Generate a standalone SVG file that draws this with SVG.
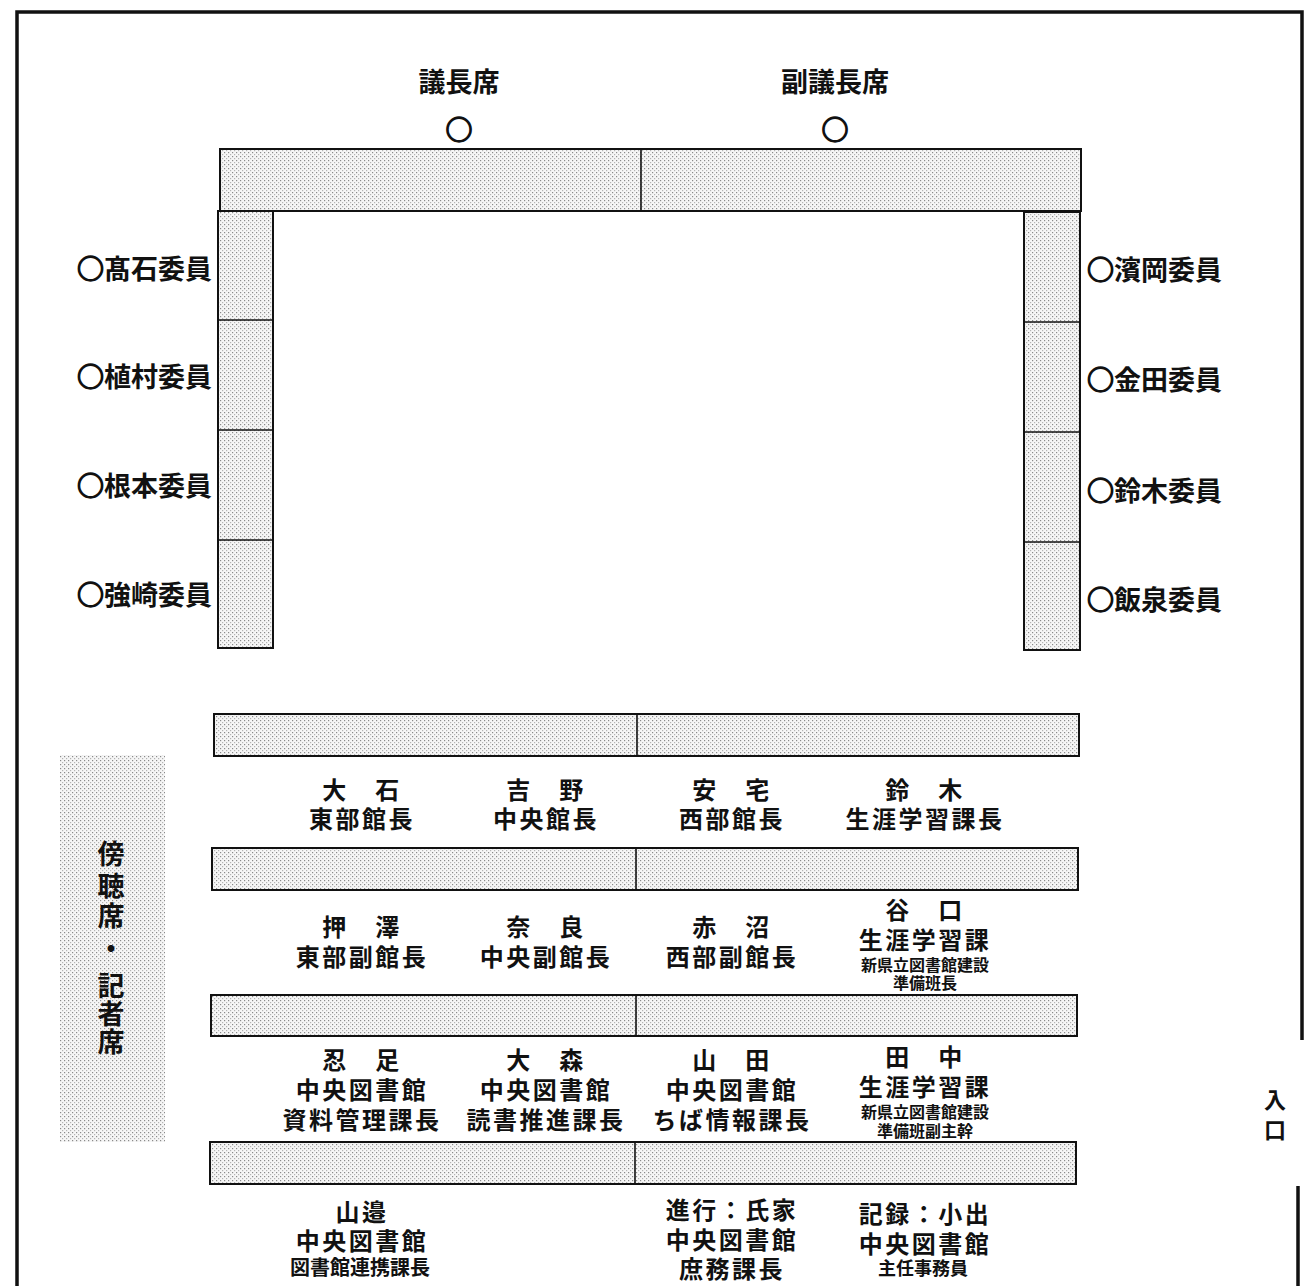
<svg xmlns="http://www.w3.org/2000/svg" width="1306" height="1288" viewBox="0 0 1306 1288">
<defs>
<pattern id="dots" width="4" height="4" patternUnits="userSpaceOnUse">
<rect width="4" height="4" fill="#f6f6f6"/>
<rect x="0" y="0" width="1.2" height="1.2" fill="#8a8a8a"/>
<rect x="2" y="2" width="1.2" height="1.2" fill="#b4b4b4"/>
</pattern>
<style>
.t{fill:url(#dots);stroke:#111;stroke-width:2}
.dv{stroke:#111;stroke-width:1.6}
.frame{stroke:#111;stroke-width:3.5;fill:none}
text{font-family:"Noto Sans CJK JP","Noto Sans CJK SC",sans-serif;font-weight:700;fill:#111;dominant-baseline:central}
.n{font-size:24px;text-anchor:middle;letter-spacing:2.5px}
.m{font-size:27px}
.g{font-size:27px;text-anchor:middle}
.s{font-size:16px;text-anchor:middle}
.s2{font-size:20px;text-anchor:middle}
.s3{font-size:18px;text-anchor:middle}
.c{text-anchor:middle}
.o{stroke:#111;stroke-width:1.4}
</style>
</defs>
<rect width="1306" height="1288" fill="#fff"/>
<g id="frame">
<path class="frame" d="M17,1286 V12 H1302 V1040"/>
<path class="frame" d="M1298,1186 V1286"/>
</g>
<g id="top-tables">
<rect class="t" x="220" y="149" width="861" height="62"/>
<line class="dv" x1="641" y1="149" x2="641" y2="211"/>
<rect class="t" x="218" y="211" width="55" height="437"/>
<line class="dv" x1="218" y1="320" x2="273" y2="320"/>
<line class="dv" x1="218" y1="430" x2="273" y2="430"/>
<line class="dv" x1="218" y1="540" x2="273" y2="540"/>
<rect class="t" x="1024" y="212" width="56" height="438"/>
<line class="dv" x1="1024" y1="322" x2="1080" y2="322"/>
<line class="dv" x1="1024" y1="432" x2="1080" y2="432"/>
<line class="dv" x1="1024" y1="542" x2="1080" y2="542"/>
</g>
<g id="rows">
<rect class="t" x="214" y="714" width="865" height="42"/>
<line class="dv" x1="637" y1="714" x2="637" y2="756"/>
<rect class="t" x="212" y="848" width="866" height="42"/>
<line class="dv" x1="636" y1="848" x2="636" y2="890"/>
<rect class="t" x="211" y="995" width="866" height="41"/>
<line class="dv" x1="636" y1="995" x2="636" y2="1036"/>
<rect class="t" x="210" y="1142" width="866" height="42"/>
<line class="dv" x1="635" y1="1142" x2="635" y2="1184"/>
</g>
<g id="gallery">
<rect x="60" y="755" width="105" height="387" fill="url(#dots)"/>
<text class="g" x="111" y="852">傍</text>
<text class="g" x="111" y="884">聴</text>
<text class="g" x="111" y="914">席</text>
<text class="g" x="111" y="947">・</text>
<text class="g" x="111" y="984">記</text>
<text class="g" x="111" y="1012">者</text>
<text class="g" x="111" y="1040">席</text>
</g>
<g id="chair">
<text class="m c" x="459" y="80">議長席</text>
<text class="m c o" x="459" y="128">○</text>
</g>
<g id="vicechair">
<text class="m c" x="835" y="80">副議長席</text>
<text class="m c o" x="835" y="128">○</text>
</g>
<g id="left-members">
<text class="m" x="212" y="267" text-anchor="end"><tspan class="o">○</tspan>髙石委員</text>
<text class="m" x="212" y="375" text-anchor="end"><tspan class="o">○</tspan>植村委員</text>
<text class="m" x="212" y="484" text-anchor="end"><tspan class="o">○</tspan>根本委員</text>
<text class="m" x="212" y="593" text-anchor="end"><tspan class="o">○</tspan>強崎委員</text>
</g>
<g id="right-members">
<text class="m" x="1087" y="268"><tspan class="o">○</tspan>濱岡委員</text>
<text class="m" x="1087" y="378"><tspan class="o">○</tspan>金田委員</text>
<text class="m" x="1087" y="489"><tspan class="o">○</tspan>鈴木委員</text>
<text class="m" x="1087" y="598"><tspan class="o">○</tspan>飯泉委員</text>
</g>
<g id="row1-labels">
<text class="n" x="362" y="788">大　石</text>
<text class="n" x="362" y="817">東部館長</text>
<text class="n" x="546" y="788">吉　野</text>
<text class="n" x="546" y="817">中央館長</text>
<text class="n" x="732" y="788">安　宅</text>
<text class="n" x="732" y="817">西部館長</text>
<text class="n" x="925" y="788">鈴　木</text>
<text class="n" x="925" y="817">生涯学習課長</text>
</g>
<g id="row2-labels">
<text class="n" x="362" y="925">押　澤</text>
<text class="n" x="362" y="955">東部副館長</text>
<text class="n" x="546" y="925">奈　良</text>
<text class="n" x="546" y="955">中央副館長</text>
<text class="n" x="732" y="925">赤　沼</text>
<text class="n" x="732" y="955">西部副館長</text>
<text class="n" x="925" y="908">谷　口</text>
<text class="n" x="925" y="938">生涯学習課</text>
<text class="s" x="925" y="964">新県立図書館建設</text>
<text class="s" x="925" y="982">準備班長</text>
</g>
<g id="row3-labels">
<text class="n" x="362" y="1058">忍　足</text>
<text class="n" x="362" y="1088">中央図書館</text>
<text class="n" x="362" y="1118">資料管理課長</text>
<text class="n" x="546" y="1058">大　森</text>
<text class="n" x="546" y="1088">中央図書館</text>
<text class="n" x="546" y="1118">読書推進課長</text>
<text class="n" x="732" y="1058">山　田</text>
<text class="n" x="732" y="1088">中央図書館</text>
<text class="n" x="732" y="1118">ちば情報課長</text>
<text class="n" x="925" y="1055">田　中</text>
<text class="n" x="925" y="1085">生涯学習課</text>
<text class="s" x="925" y="1111">新県立図書館建設</text>
<text class="s" x="925" y="1130">準備班副主幹</text>
</g>
<g id="row4-labels">
<text class="n" x="362" y="1210">山邉</text>
<text class="n" x="362" y="1239">中央図書館</text>
<text class="s2" x="360" y="1266">図書館連携課長</text>
<text class="n" x="732" y="1208">進行：氏家</text>
<text class="n" x="732" y="1238">中央図書館</text>
<text class="n" x="732" y="1267">庶務課長</text>
<text class="n" x="925" y="1212">記録：小出</text>
<text class="n" x="925" y="1242">中央図書館</text>
<text class="s3" x="923" y="1267">主任事務員</text>
</g>
<g id="entrance">
<text class="c" x="1275" y="1098" style="font-size:22px">入</text>
<text class="c" x="1275" y="1128" style="font-size:22px">口</text>
</g>
</svg>
